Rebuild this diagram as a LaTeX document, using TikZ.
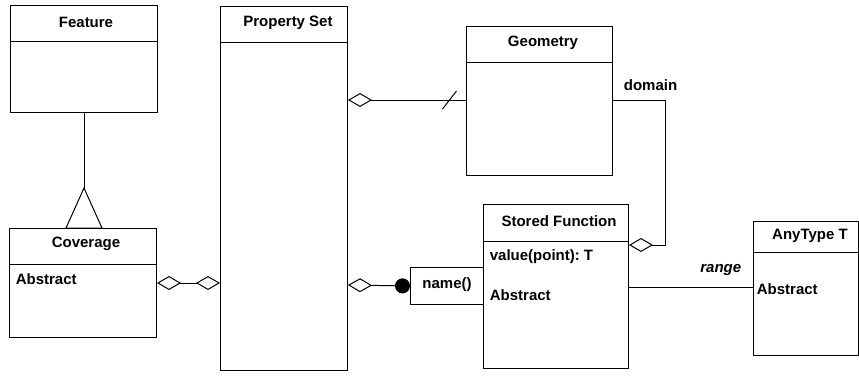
\documentclass[tikz,border=0pt]{standalone}
\usepackage{fontspec}
\setmainfont{Liberation Sans}
\usetikzlibrary{arrows.meta,calc}

\tikzset{
    cls/.style={draw, anchor=north west, inner sep=0pt},
    agg/.tip={Diamond[open,length=24pt,width=14pt]},
    dot/.tip={Circle[length=15pt]}
}

\begin{document}
\begin{tikzpicture}[x=1pt,y=-1pt,line width=1pt,font=\fontsize{15}{18}\selectfont\bfseries]
    \useasboundingbox (0,0) rectangle (859,380);

    % Class boxes
    \node[cls, minimum width=147, minimum height=107] (feature) at (10,5) {};
    \node[cls, minimum width=147, minimum height=109] (coverage) at (9,228) {};
    \node[cls, minimum width=127, minimum height=364] (propset) at (220,6) {};
    \node[cls, minimum width=146, minimum height=149] (geometry) at (466,26) {};
    \node[cls, minimum width=145, minimum height=164] (stored) at (483,204) {};
    \node[cls, minimum width=105, minimum height=134] (anytype) at (753,221) {};
    \node[cls, minimum width=73, minimum height=37] (namebox) at (410,267) {};

    % Header lines
    \draw (feature.west |- 0,41) -- (feature.east |- 0,41);
    \draw (coverage.west |- 0,264) -- (coverage.east |- 0,264);
    \draw (propset.west |- 0,42) -- (propset.east |- 0,42);
    \draw (geometry.west |- 0,62) -- (geometry.east |- 0,62);
    \draw (stored.west |- 0,241) -- (stored.east |- 0,241);
    \draw (anytype.west |- 0,252) -- (anytype.east |- 0,252);

    % Class names
    \node (featurename) at (86,22) {Feature};
    \node (coveragename) at (86,244) {Coverage};
    \node (propsetname) at (288,23) {Property Set};
    \node (geometryname) at (543,43) {Geometry};
    \node (storedname) at (559,221) {Stored Function};
    \node (anytypename) at (810,236) {AnyType T};
    \node (namelabel) at (447,285) {name()};

    % Attributes
    \node[anchor=west] (covabstract) at (12,279) {Abstract};
    \node[anchor=west] (valueop) at (486,257) {value(point):\ T};
    \node[anchor=west] (storedabstract) at (486,295) {Abstract};
    \node[anchor=west] (anyabstract) at (753,289) {Abstract};

    % Generalization
    \draw (feature.south) -- (feature.south |- 0,188) coordinate (apex);
    \draw (apex) -- ($(apex)+(-18,40)$) -- ($(apex)+(18,40)$) -- cycle;

    % Aggregations
    \draw[agg-agg] (coverage.east |- 0,283) -- (propset.west |- 0,283);
    \draw[agg-] (propset.east |- 0,100) -- coordinate[pos=0.86] (cut) (geometry.west |- 0,100);
    \draw ($(cut)+(-7,9)$) -- ($(cut)+(7,-9)$);
    \draw[agg-dot] (propset.east |- 0,285) -- (namebox.west);
    \draw[-agg] (geometry.east |- 0,100) -- (665,100) |- (stored.east |- 0,245);
    \node[anchor=west] (domainlabel) at (620,85) {domain};

    % Range
    \draw (stored.east |- 0,287) -- (anytype.west |- 0,287);
    \node[anchor=east, font=\fontsize{15}{18}\selectfont\bfseries\itshape] (rangelabel) at (745,270) {range};
\end{tikzpicture}
\end{document}
